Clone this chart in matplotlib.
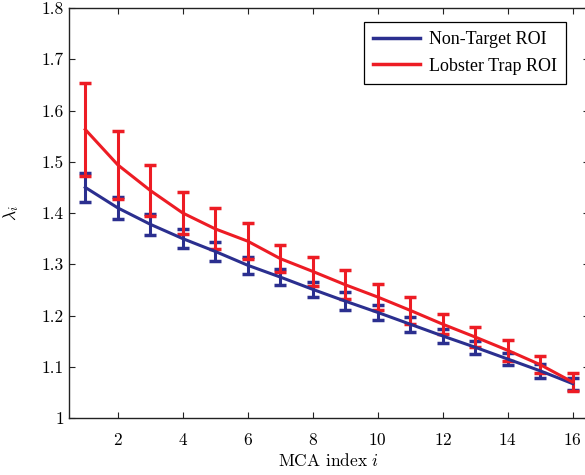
import numpy as np
import matplotlib
matplotlib.use('Agg')
import matplotlib.pyplot as plt
from matplotlib.lines import Line2D

# values
mca_index = np.arange(1, 17)
non_target = [1.450, 1.410, 1.378, 1.350, 1.325, 1.298, 1.275, 1.251, 1.228, 1.206,
              1.183, 1.160, 1.138, 1.115, 1.092, 1.067]
non_target_err = [0.028, 0.022, 0.021, 0.019, 0.018, 0.017, 0.016, 0.015, 0.017, 0.015,
                  0.015, 0.013, 0.013, 0.012, 0.013, 0.012]
lobster = [1.563, 1.494, 1.444, 1.400, 1.369, 1.345, 1.311, 1.286, 1.260, 1.236,
           1.210, 1.183, 1.158, 1.132, 1.104, 1.070]
lobster_err = [0.091, 0.066, 0.050, 0.041, 0.040, 0.035, 0.027, 0.028, 0.028, 0.026,
               0.026, 0.020, 0.019, 0.020, 0.017, 0.018]
labels = ['Non-Target ROI', 'Lobster Trap ROI']
xticks = [2, 4, 6, 8, 10, 12, 14, 16]
yticks = [1.0, 1.1, 1.2, 1.3, 1.4, 1.5, 1.6, 1.7, 1.8]

blue = '#2b2f8f'
red = '#ed1c24'

plt.rcParams['font.family'] = 'cmr10'
plt.rcParams['mathtext.fontset'] = 'cm'
plt.rcParams['axes.formatter.use_mathtext'] = True

fig = plt.figure(figsize=(5.85, 4.75), dpi=100)
ax = fig.add_axes([69 / 585, 57 / 475, 520 / 585, 410 / 475])

ax.errorbar(mca_index, non_target, yerr=non_target_err, color=blue, lw=2.2,
            elinewidth=2.2, capsize=4.5, capthick=2.5)
ax.errorbar(mca_index, lobster, yerr=lobster_err, color=red, lw=2.2,
            elinewidth=2.2, capsize=4.5, capthick=2.5)

ax.set_xlim(0.5, 16.5)
ax.set_ylim(1.0, 1.8)
ax.set_xticks(xticks)
ax.set_yticks(yticks)
ax.set_yticklabels(['1'] + ['%.1f' % v for v in yticks[1:]])
ax.tick_params(direction='in', top=True, right=True, length=4, width=0.8,
               labelsize=12.5, colors='#222222', labelcolor='black')
ax.tick_params(axis='x', pad=10)
for s in ax.spines.values():
    s.set_linewidth(1.0)
    s.set_color('#222222')

ax.set_xlabel('MCA index $i$', fontsize=12.5, labelpad=3)
ax.set_ylabel(r'$\lambda_i$', fontsize=12.5, labelpad=15)

handles = [Line2D([], [], color=blue, lw=2.5), Line2D([], [], color=red, lw=2.5)]
leg = ax.legend(handles, labels, loc='upper right', bbox_to_anchor=(0.962, 0.975),
                prop={'family': 'Liberation Serif', 'size': 13},
                fancybox=False, edgecolor='black', framealpha=1,
                handlelength=2.6, handletextpad=0.5, borderpad=0.5,
                labelspacing=0.55, borderaxespad=0.2)
leg.get_frame().set_linewidth(0.9)

plt.savefig('out.png', dpi=100)
